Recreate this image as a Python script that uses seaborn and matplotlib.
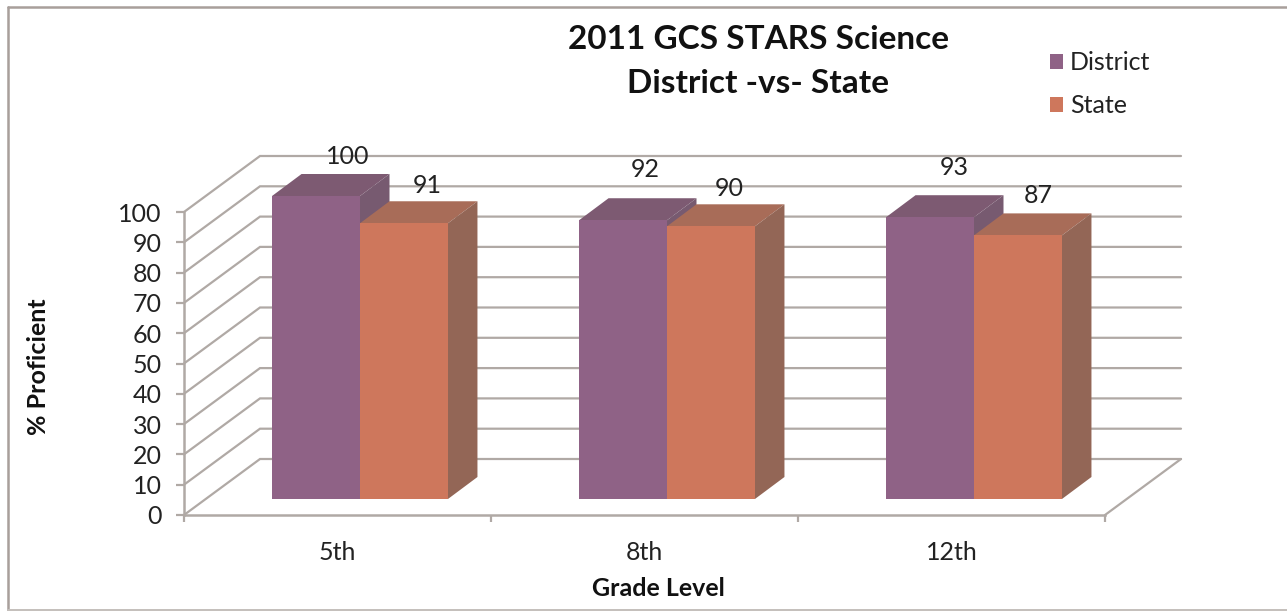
import matplotlib
matplotlib.use("Agg")
import matplotlib.pyplot as plt
from matplotlib.lines import Line2D
from matplotlib.patches import Polygon
import pandas as pd
import seaborn as sns

grades = ["5th", "8th", "12th"]
district = [100, 92, 93]
state = [91, 90, 87]
series_names = ["District", "State"]
y_ticks = list(range(0, 101, 10))
title_text = "2011 GCS STARS Science\nDistrict -vs- State"

W, H = 1287, 611
AX_L, AX_R, AX_T, AX_B = 184, 1105, 212, 515
PX_X = (AX_R - AX_L) / 3
PX_Y = (AX_B - AX_T) / 100


def dx(px):
    return px / PX_X


def dy(px):
    return px / PX_Y


GRID = "#B0A9A5"
FRONT = ["#8F6286", "#CE775C"]
TOP = ["#7D5A72", "#A86C58"]
SIDE = ["#775A70", "#936656"]
TEXT = "#222222"

sns.set_theme(style="white")
plt.rcParams["font.family"] = ["Lato", "DejaVu Sans"]

df = pd.DataFrame({
    "Grade": grades * 2,
    "Series": [series_names[0]] * 3 + [series_names[1]] * 3,
    "Value": district + state,
})

fig = plt.figure(figsize=(W / 100, H / 100), dpi=100, facecolor="white")
ax = fig.add_axes([AX_L / W, 1 - AX_B / H, (AX_R - AX_L) / W, (AX_B - AX_T) / H])
sns.barplot(data=df, x="Grade", y="Value", hue="Series", order=grades,
            hue_order=series_names, palette=FRONT, width=0.573, saturation=1,
            ax=ax, errorbar=None, linewidth=0)
ax.set_xlim(-0.5, 2.5)
ax.set_ylim(0, 100)

# walls and floor
wall_x, wall_y = dx(76), dy(56)
for v in y_ticks:
    ax.plot([-0.5, -0.5 + wall_x, 2.5 + wall_x], [v, v + wall_y, v + wall_y],
            color=GRID, lw=1.6, clip_on=False, zorder=1, solid_joinstyle="miter")
ax.plot([2.5, 2.5 + wall_x], [0, wall_y], color=GRID, lw=1.6, clip_on=False, zorder=1)

# bars raised off the wall front, with depth faces
off_x, off_y = dx(22.5), dy(16)
deep_x, deep_y = dx(29.5), dy(22)
label_offsets = [[(32, 40), (23, 38)], [(22, 51), (18, 38)], [(24, 50), (20, 40)]]
for s, container in enumerate(ax.containers):
    for c, bar in enumerate(container):
        bar.set_x(bar.get_x() + off_x)
        bar.set_y(bar.get_y() + off_y)
        bar.set_clip_on(False)
        base = 3 + 2 * s
        bar.set_zorder(base + 1)
        x0, x1 = bar.get_x(), bar.get_x() + bar.get_width()
        y0, y1 = bar.get_y(), bar.get_y() + bar.get_height()
        ax.add_patch(Polygon([(x0, y1), (x1, y1), (x1 + deep_x, y1 + deep_y), (x0 + deep_x, y1 + deep_y)],
                             closed=True, fc=TOP[s], ec="none", clip_on=False, zorder=base))
        ax.add_patch(Polygon([(x1, y0), (x1 + deep_x, y0 + deep_y), (x1 + deep_x, y1 + deep_y), (x1, y1)],
                             closed=True, fc=SIDE[s], ec="none", clip_on=False, zorder=base))
        ox, oy = label_offsets[c][s]
        ax.annotate(f"{bar.get_height() + 0:.0f}", ((x0 + x1) / 2, y1), xytext=(ox * 0.72, oy * 0.72),
                    textcoords="offset points", ha="center", va="center",
                    fontsize=18, color=TEXT, zorder=10, annotation_clip=False)

# axes
for side in ["top", "right"]:
    ax.spines[side].set_visible(False)
for side in ["left", "bottom"]:
    ax.spines[side].set_color(GRID)
    ax.spines[side].set_linewidth(1.8)
ax.set_yticks(y_ticks)
ax.tick_params(axis="y", length=6, width=1.6, color=GRID, left=True, labelsize=18,
               labelcolor=TEXT, pad=10)
for lab in ax.get_yticklabels():
    lab.set_va("center_baseline")
ax.set_xticks([0, 1, 2], grades)
ax.set_xticks([-0.5, 0.5, 1.5, 2.5], minor=True)
ax.tick_params(axis="x", which="major", length=0, labelsize=18, labelcolor=TEXT, pad=19)
ax.tick_params(axis="x", which="minor", length=5, width=1.6, color=GRID, bottom=True)
ax.set_xlabel("Grade Level", fontsize=18, fontweight="bold", color="#111111")
ax.xaxis.set_label_coords((658 - AX_L) / (AX_R - AX_L), (AX_B - 589) / (AX_B - AX_T))
ax.xaxis.label.set_va("center")
ax.set_ylabel("% Proficient", fontsize=18, fontweight="bold", color="#111111")
ax.yaxis.set_label_coords((39 - AX_L) / (AX_R - AX_L), (AX_B - 367) / (AX_B - AX_T))
ax.yaxis.label.set_va("center")

# title and legend
fig.text(758 / W, 1 - 61.5 / H, title_text, ha="center", va="center", fontsize=24,
         fontweight="bold", color="#111111", linespacing=1.65)
handles, labels = ax.get_legend_handles_labels()
ax.legend(handles, labels, frameon=False, loc="upper left",
          bbox_to_anchor=(1042 / W, 1 - 44 / H), bbox_transform=fig.transFigure,
          fontsize=18, handlelength=0.55, handleheight=0.55, handletextpad=0.26,
          labelspacing=0.78, labelcolor=TEXT, borderpad=0.3, borderaxespad=0)

# outer frame
fig.add_artist(Line2D([8 / W, 8 / W], [1 - 7 / H, 1 - 610 / H], color="#A89F9B", lw=1.8))
fig.add_artist(Line2D([8 / W, 1], [1 - 7 / H, 1 - 7 / H], color="#A89F9B", lw=1.8))
fig.add_artist(Line2D([8 / W, 1], [1 - 610 / H, 1 - 610 / H], color="#C4BFBB", lw=1.4))

fig.savefig("out.png", dpi=100, facecolor="white")
